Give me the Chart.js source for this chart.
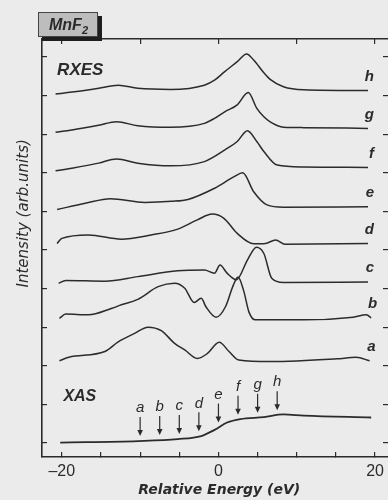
<!DOCTYPE html>
<html>
<head>
<meta charset="utf-8">
<title>MnF2 RXES / XAS</title>
<script src="https://cdn.jsdelivr.net/npm/chart.js@4.4.1/dist/chart.umd.min.js"></script>
<style>
  html, body { margin: 0; padding: 0; background: #ebebeb; }
  #wrap { width: 388px; height: 500px; }
</style>
</head>
<body>
<div id="wrap"><canvas id="chart" width="388" height="500"></canvas></div>
<script>
// RXES spectra a..h stacked with vertical offsets, XAS edge at the bottom

const curveNames = ["a", "b", "c", "d", "e", "f", "g", "h"];
const curveOffsets = [2.13, 3.23, 4.14, 5.15, 6.05, 7.05, 8.05, 9.04];

const energyA = [-20.3, -19.1, -14.5, -12.8, -10.7, -9.0, -7.3, -5.6, -4.3, -2.7, -1.4, 0.1, 1.35, 2.6, 6.6, 15.1, 17.6, 19.3];
const intensityA = [0, 0.09, 0.24, 0.49, 0.71, 0.87, 0.78, 0.45, 0.28, 0.06, 0.19, 0.48, 0.24, 0.02, -0.02, 0.05, 0.09, 0];

const energyB = [-20.3, -19.5, -16.6, -13.6, -12.4, -10.3, -7.7, -5.6, -4.3, -3.1, -2.2, -1.6, -0.3, 0.9, 1.9, 2.5, 3.2, 3.9, 4.7, 10.9, 17.2, 18.9, 19.5];
const intensityB = [0, 0.11, 0.09, 0.26, 0.35, 0.49, 0.82, 0.91, 0.78, 0.41, 0.52, 0.30, 0.03, 0.30, 0.86, 1.07, 0.73, 0.16, -0.04, -0.04, 0.03, 0.09, 0.01];

const energyC = [-20.4, -19.5, -14.5, -10.3, -5.2, -1.8, -0.5, 0.2, 1.1, 2.3, 3.7, 4.85, 5.8, 6.8, 8.3, 19.1];
const intensityC = [0, 0.07, 0.05, 0.17, 0.32, 0.34, 0.26, 0.47, 0.26, 0.09, 0.60, 0.93, 0.77, 0.13, 0.02, 0.03];

const energyD = [-20.6, -20.0, -16.6, -12.4, -8.6, -5.2, -2.7, -0.8, 0.7, 2.4, 4.5, 6.0, 7.3, 8.5, 19.1];
const intensityD = [0.02, 0.15, 0.24, 0.13, 0.24, 0.39, 0.63, 0.78, 0.67, 0.28, 0.01, 0.02, 0.11, 0.0, 0.02];

const energyE = [-20.6, -17.0, -13.8, -9.4, -6.0, -3.9, -0.5, 2.0, 3.1, 4.5, 6.2, 8.3, 19.1];
const intensityE = [0, 0.16, 0.28, 0.18, 0.21, 0.26, 0.55, 0.85, 0.95, 0.46, 0.12, 0.06, 0.07];

const energyF = [-20.8, -18.7, -15.3, -13.0, -10.3, -6.1, -1.8, 1.1, 2.4, 3.7, 4.9, 5.8, 7.5, 10.9, 19.1];
const intensityF = [0, 0.07, 0.20, 0.31, 0.20, 0.13, 0.24, 0.58, 0.76, 1.04, 0.76, 0.50, 0.15, 0.10, 0.09];

const energyG = [-20.8, -18.7, -15.3, -13.0, -10.3, -6.1, -1.8, -0.5, 0.8, 2.4, 3.8, 4.9, 5.8, 6.6, 8.3, 10.9, 19.1];
const intensityG = [0, 0.06, 0.18, 0.27, 0.17, 0.13, 0.23, 0.36, 0.53, 0.71, 1.03, 0.62, 0.40, 0.27, 0.13, 0.12, 0.10];

const energyH = [-20.8, -18.7, -15.3, -12.8, -10.3, -6.1, -1.8, -0.5, 0.8, 2.4, 3.6, 4.5, 5.8, 6.6, 8.3, 10.9, 19.1];
const intensityH = [0, 0.05, 0.15, 0.23, 0.15, 0.12, 0.23, 0.36, 0.58, 0.84, 1.04, 0.88, 0.55, 0.38, 0.19, 0.11, 0.09];

const energyXAS = [-20.2, -10.25, -5.2, -2.2, -0.5, 1.1, 2.8, 5.8, 8.3, 10.9, 19.5];
const intensityXAS = [0.01, 0.05, 0.10, 0.18, 0.34, 0.53, 0.62, 0.67, 0.74, 0.71, 0.66];

// excitation energies marked on the XAS curve
const arrowEnergies = [-10, -7.5, -5, -2.5, 0, 2.5, 5, 7.5];

const xTickValues = [-20, -15, -10, -5, 0, 5, 10, 15, 20];
const xTickLabels = ["\u201320", "", "", "", "0", "", "", "", "20"];
const xTopTickValues = [-20, -10, 0, 10, 20];
const yTickValues = [0, 1, 2, 3, 4, 5, 6, 7, 8, 9, 10];

const energies = [energyA, energyB, energyC, energyD, energyE, energyF, energyG, energyH];
const intensities = [intensityA, intensityB, intensityC, intensityD, intensityE, intensityF, intensityG, intensityH];

const INK = "#2b2b2b";
const LABEL_FONT = "'Liberation Sans', Arial, sans-serif";
const AXIS_FONT = "'DejaVu Sans', sans-serif";

function toPoints(xs, ys, offset) {
  return xs.map((e, i) => ({ x: e, y: ys[i] + offset }));
}

function xasAt(e) {
  // linear lookup along the XAS trace, used to place the arrow tips
  for (let i = 0; i < energyXAS.length - 1; i++) {
    if (e >= energyXAS[i] && e <= energyXAS[i + 1]) {
      const t = (e - energyXAS[i]) / (energyXAS[i + 1] - energyXAS[i]);
      return intensityXAS[i] + t * (intensityXAS[i + 1] - intensityXAS[i]);
    }
  }
  return intensityXAS[intensityXAS.length - 1];
}

const datasets = curveNames.map((name, i) => ({
  label: name,
  data: toPoints(energies[i], intensities[i], curveOffsets[i]),
  borderColor: INK,
  borderWidth: 1.5,
  pointRadius: 0,
  cubicInterpolationMode: "monotone",
  fill: false
}));

datasets.push({
  label: "XAS",
  data: toPoints(energyXAS, intensityXAS, 0),
  borderColor: INK,
  borderWidth: 1.8,
  pointRadius: 0,
  cubicInterpolationMode: "monotone",
  fill: false
});

const annotations = {
  id: "annotations",
  afterDraw(chart) {
    const { ctx, chartArea, scales: { x, y } } = chart;
    ctx.save();
    ctx.fillStyle = INK;
    ctx.strokeStyle = INK;

    // axis titles
    ctx.textAlign = "center";
    ctx.textBaseline = "middle";
    ctx.font = `italic bold 14px ${AXIS_FONT}`;
    ctx.fillText("Relative Energy (eV)", x.getPixelForValue(0.1), 490);
    ctx.save();
    ctx.translate(24, y.getPixelForValue(5.95));
    ctx.rotate(-Math.PI / 2);
    ctx.font = `italic 15px ${AXIS_FONT}`;
    ctx.fillText("Intensity (arb.units)", 0, 0);
    ctx.restore();

    // panel titles
    ctx.font = `italic bold 17px ${LABEL_FONT}`;
    ctx.textAlign = "left";
    ctx.fillText("RXES", x.getPixelForValue(-20.6), y.getPixelForValue(9.66));
    ctx.font = `italic bold 16px ${LABEL_FONT}`;
    ctx.fillText("XAS", x.getPixelForValue(-19.8), y.getPixelForValue(1.19));

    // curve letters at the right end of each spectrum
    ctx.font = `italic bold 15px ${LABEL_FONT}`;
    ctx.textAlign = "right";
    curveNames.forEach((name, i) => {
      const xs = energies[i], ys = intensities[i];
      const last = xs.length - 1;
      const px = x.getPixelForValue(xs[last]) + 6;
      const py = y.getPixelForValue(ys[last] + curveOffsets[i]) - 14;
      ctx.fillText(name, px, py);
    });

    // arrows pointing at the excitation energies on the XAS edge
    ctx.font = `italic 15px ${LABEL_FONT}`;
    ctx.textAlign = "center";
    ctx.lineWidth = 1.2;
    arrowEnergies.forEach((e, i) => {
      const px = x.getPixelForValue(e);
      const tip = y.getPixelForValue(xasAt(e)) - 5;
      const top = tip - 19;
      ctx.beginPath();
      ctx.moveTo(px, top);
      ctx.lineTo(px, tip - 5);
      ctx.stroke();
      ctx.beginPath();
      ctx.moveTo(px - 2.8, tip - 6);
      ctx.lineTo(px + 2.8, tip - 6);
      ctx.lineTo(px, tip);
      ctx.closePath();
      ctx.fill();
      ctx.fillText(curveNames[i], px, top - 9);
    });

    // compound tag in the top-left corner
    const bx = chartArea.left - 4, by = chartArea.top - 27, bw = 60, bh = 25;
    ctx.fillStyle = "#1e1e1e";
    ctx.fillRect(bx + 4, by + 4, bw, bh);
    ctx.fillStyle = "#bdbdbd";
    ctx.fillRect(bx, by, bw, bh);
    ctx.lineWidth = 1;
    ctx.strokeStyle = "#444";
    ctx.strokeRect(bx + 0.5, by + 0.5, bw - 1, bh - 1);
    ctx.fillStyle = INK;
    ctx.textAlign = "left";
    ctx.textBaseline = "alphabetic";
    ctx.font = `italic bold 16px ${LABEL_FONT}`;
    const base = by + 18;
    ctx.fillText("MnF", bx + 11, base);
    const w = ctx.measureText("MnF").width;
    ctx.font = `italic bold 11px ${LABEL_FONT}`;
    ctx.fillText("2", bx + 11 + w, base + 4);

    ctx.restore();
  }
};

function fitX(height) {
  return s => {
    s.height = height;
    s.paddingLeft = 0;
    s.paddingRight = 0;
  };
}

function fitY(width) {
  return s => {
    s.width = width;
    s.paddingTop = 0;
    s.paddingBottom = 0;
  };
}

Chart.defaults.font.family = LABEL_FONT;
Chart.defaults.color = INK;

const tickGrid = { drawOnChartArea: false, drawTicks: true, tickLength: -5, color: INK, lineWidth: 1.2 };
const frame = { display: true, color: INK, width: 1.6 };

new Chart(document.getElementById("chart"), {
  type: "line",
  data: { datasets },
  options: {
    responsive: false,
    animation: false,
    layout: { padding: { left: 0, right: -3, top: 0, bottom: 0 } },
    plugins: { legend: { display: false }, tooltip: { enabled: false } },
    scales: {
      x: {
        type: "linear",
        position: "bottom",
        min: -22.53,
        max: 21.65,
        afterBuildTicks: s => { s.ticks = xTickValues.map(v => ({ value: v })); },
        afterFit: fitX(43),
        ticks: {
          autoSkip: false,
          maxRotation: 0,
          padding: 10,
          font: { size: 16 },
          color: INK,
          callback: (v, i) => xTickLabels[i]
        },
        grid: tickGrid,
        border: frame
      },
      x2: {
        type: "linear",
        position: "top",
        min: -22.53,
        max: 21.65,
        afterBuildTicks: s => { s.ticks = xTopTickValues.map(v => ({ value: v })); },
        afterFit: fitX(39),
        ticks: { display: false },
        grid: tickGrid,
        border: frame
      },
      y: {
        type: "linear",
        position: "left",
        min: -0.363,
        max: 10.466,
        afterBuildTicks: s => { s.ticks = yTickValues.map(v => ({ value: v })); },
        afterFit: fitY(42),
        ticks: { display: false },
        grid: tickGrid,
        border: frame
      },
      y2: {
        type: "linear",
        position: "right",
        min: -0.363,
        max: 10.466,
        afterBuildTicks: s => { s.ticks = yTickValues.map(v => ({ value: v })); },
        afterFit: fitY(0),
        ticks: { display: false },
        grid: tickGrid,
        border: { display: false }
      }
    }
  },
  plugins: [annotations]
});
</script>
</body>
</html>
